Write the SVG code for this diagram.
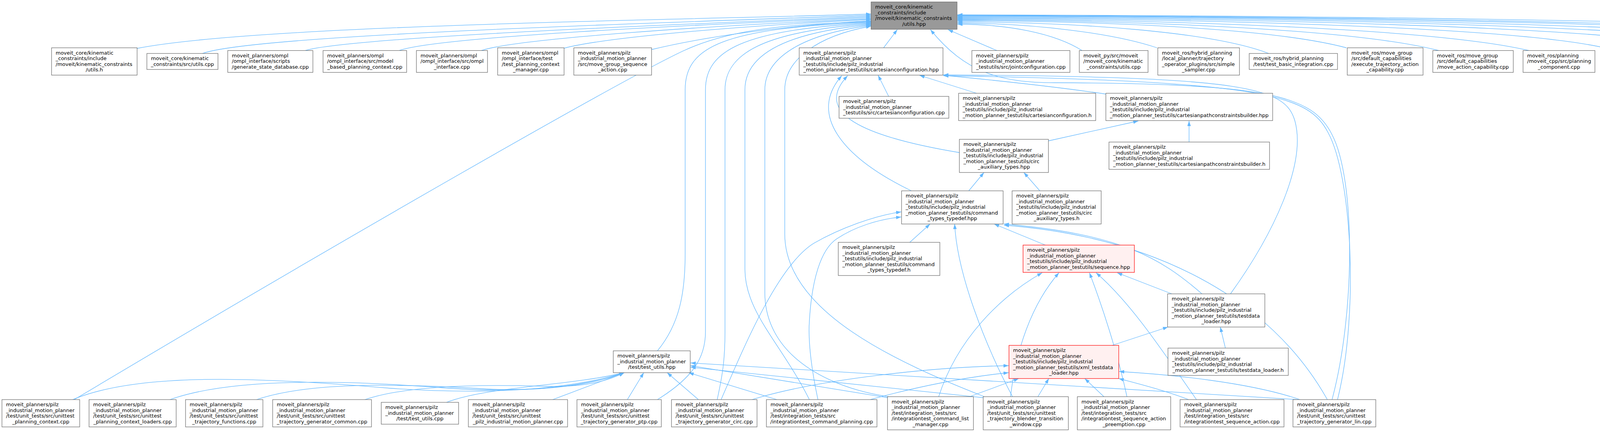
<svg xmlns="http://www.w3.org/2000/svg" width="5678" height="1107" viewBox="0 0 5678 1107">
<style>
.n rect{fill:#ffffff;stroke:#666666;stroke-width:1.2}
.hl rect{fill:#999999}
.red rect{fill:#fff0f0;stroke:#ff0000}
text{font-family:"DejaVu Sans","Liberation Sans",sans-serif;font-size:13px;fill:#000000}
text.c{text-anchor:middle}
.e path{fill:none;stroke:#63b8ff;stroke-width:1.3;marker-end:url(#a)}
</style>
<defs>
<marker id="a" markerUnits="userSpaceOnUse" markerWidth="14" markerHeight="10" refX="13" refY="4.5" orient="auto"><path d="M0,0 L13,4.5 L0,9 z" fill="#63b8ff"/></marker>
</defs>
<rect x="0" y="0" width="5678" height="1107" fill="#ffffff"/>
<g id="edges" class="e">
<path d="M351,124 C650,65 1700,52 2230,36"/>
<path d="M518,137 C650,90 1600,62 2230,39"/>
<path d="M781,129.5 C900,95 1700,64 2230,42"/>
<path d="M1022,129.5 C1120,95 1750,64 2230,45"/>
<path d="M1232,129.5 C1320,100 1800,66 2230,48"/>
<path d="M1442,124 C1550,95 1900,66 2230,50"/>
<path d="M1668,127 C1800,95 2000,66 2230,53"/>
<path d="M190,1024 C900,600 1600,200 1750,130 S2100,62 2230,55"/>
<path d="M1683,899 C1740,830 1754,750 1754,650 L1754,230 C1754,120 1850,72 2230,57"/>
<path d="M1683,1024 C1770,970 1806,920 1806,850 L1806,230 C1806,130 1900,76 2230,59"/>
<path d="M1836,1024 C1850,960 1856,920 1856,850 L1856,230 C1856,140 1950,80 2230,61"/>
<path d="M2072,1024 C2000,880 1907,800 1907,690 L1907,230 C1907,145 2000,84 2230,63"/>
<path d="M2275,1016.5 C2100,990 1958,900 1958,750 L1958,230 C1958,150 2050,88 2230,65"/>
<path d="M2520,1016.5 C2300,930 2009,800 2009,600 L2009,230 C2009,155 2090,92 2230,67"/>
<path d="M2552,129.5 L2427,76"/>
<path d="M2262,122.5 L2297,76"/>
<path d="M2770,129.5 C2700,85 2580,62 2451,62"/>
<path d="M2962,122.5 C2850,85 2650,60 2451,59"/>
<path d="M3248,137 C3100,80 2750,57 2451,56"/>
<path d="M3447,122.5 C3250,70 2800,54 2451,53"/>
<path d="M3683,129.5 C3450,70 2850,52 2451,51"/>
<path d="M3914,129.5 C3650,68 2900,50 2451,49"/>
<path d="M4108,122.5 C3850,65 3000,48 2451,47"/>
<path d="M4356,122.5 C4100,65 3100,46 2451,45"/>
<path d="M4574,122.5 C4300,65 3200,44 2451,43"/>
<path d="M4811,122.5 C4500,65 3300,43 2451,41"/>
<path d="M5049,122.5 C4750,65 3400,42 2451,40"/>
<path d="M5329,137 C5150,70 3600,41 2451,39"/>
<path d="M5516,129.5 C5350,70 3800,40 2451,38"/>
<path d="M3410,1024 C3470,800 3470,460 3410,345 C3360,245 3250,214 2700,212 C2560,212 2470,185 2382,76"/>
<path d="M2275,247 L2248,193"/>
<path d="M2500,239 L2354,193"/>
<path d="M2831,241 C2700,222 2520,203 2415,193"/>
<path d="M2456,391 C2210,350 2080,290 2170,194"/>
<path d="M2333,489 C2150,400 2070,290 2155,194"/>
<path d="M3150,753 C3260,600 3345,420 3315,310 C3290,225 3200,196 2415,192"/>
<path d="M3424,1024 C3480,800 3460,450 3400,340 C3350,245 3250,208 2415,194"/>
<path d="M2684,361 L2914,310"/>
<path d="M3044,364 L3044,310"/>
<path d="M2480,489 L2519,442"/>
<path d="M2662,489 L2621,442"/>
<path d="M2329,621 L2381,574"/>
<path d="M2676,628 L2545,574"/>
<path d="M1846,1024 C1900,900 1990,680 2084,623 C2150,585 2240,552 2307,543"/>
<path d="M2094,1024 C2080,960 2068,880 2072,823 C2078,720 2100,640 2142,612 C2190,580 2250,562 2307,556"/>
<path d="M2592,1016.5 C2520,880 2450,700 2444,574"/>
<path d="M3077,753 C2970,660 2870,600 2570,574"/>
<path d="M3398,1024 C3250,760 2950,606 2570,577"/>
<path d="M3000,753 L2860,699"/>
<path d="M2403,1016.5 C2450,870 2560,760 2668,699"/>
<path d="M2587,1016.5 C2600,900 2640,780 2711,699"/>
<path d="M2885,1016.5 C2860,900 2820,780 2789,699"/>
<path d="M3063,1024 C2990,920 2900,780 2806,699"/>
<path d="M2847,885 L2990,838"/>
<path d="M3137,892 L3124,838"/>
<path d="M1925,1024 C2100,970 2400,940 2582,937"/>
<path d="M2228,1024 C2350,990 2480,965 2582,955"/>
<path d="M2482,1016.5 L2608,970"/>
<path d="M2657,1016.5 L2685,970"/>
<path d="M2826,1016.5 L2777,970"/>
<path d="M3043,1024 C2980,1000 2920,985 2864,970"/>
<path d="M3328,1024 C3200,980 3000,960 2865,952"/>
<path d="M186,1024 C350,955 650,965 1000,995 C1250,1012 1450,1000 1598,955"/>
<path d="M435,1024 C600,965 900,975 1150,995 C1350,1008 1500,990 1598,955"/>
<path d="M657,1024 C800,975 1050,985 1250,997 C1400,1003 1520,985 1598,955"/>
<path d="M934,1024 C1050,985 1250,985 1400,990 C1500,992 1560,975 1598,955"/>
<path d="M1143,1031 C1250,990 1450,990 1598,955"/>
<path d="M1415,1024 L1598,955"/>
<path d="M1606,1024 L1648,955"/>
<path d="M1788,1024 L1708,955"/>
<path d="M1989,1024 L1763,955"/>
<path d="M2272,1019 L1768,937"/>
<path d="M2517,1019 L1768,941"/>
<path d="M3324,1024 L1768,930"/>
</g>
<g id="T" class="n hl"><rect x="2230" y="5" width="220" height="70"/><text x="2240.5" y="22">moveit_core/kinematic</text><text x="2240.5" y="36.5">_constraints/include</text><text x="2240.5" y="51">/moveit/kinematic_constraints</text><text class="c" x="2340" y="65.5">/utils.hpp</text></g>
<g id="n1" class="n"><rect x="132" y="122.5" width="219" height="70"/><text x="142.5" y="139.5">moveit_core/kinematic</text><text x="142.5" y="154">_constraints/include</text><text x="142.5" y="168.5">/moveit/kinematic_constraints</text><text class="c" x="241.5" y="183">/utils.h</text></g>
<g id="n2" class="n"><rect x="376" y="137" width="182" height="41"/><text x="386.5" y="154">moveit_core/kinematic</text><text class="c" x="467" y="168.5">_constraints/src/utils.cpp</text></g>
<g id="n3" class="n"><rect x="583" y="129.5" width="218" height="56"/><text x="593.5" y="146.5">moveit_planners/ompl</text><text x="593.5" y="161">/ompl_interface/scripts</text><text class="c" x="692" y="175.5">/generate_state_database.cpp</text></g>
<g id="n4" class="n"><rect x="827" y="129.5" width="214" height="56"/><text x="837.5" y="146.5">moveit_planners/ompl</text><text x="837.5" y="161">/ompl_interface/src/model</text><text class="c" x="934" y="175.5">_based_planning_context.cpp</text></g>
<g id="n5" class="n"><rect x="1066" y="129.5" width="182" height="56"/><text x="1076.5" y="146.5">moveit_planners/ompl</text><text x="1076.5" y="161">/ompl_interface/src/ompl</text><text class="c" x="1157" y="175.5">_interface.cpp</text></g>
<g id="n6" class="n"><rect x="1274" y="122.5" width="170" height="70"/><text x="1284.5" y="139.5">moveit_planners/ompl</text><text x="1284.5" y="154">/ompl_interface/test</text><text x="1284.5" y="168.5">/test_planning_context</text><text class="c" x="1359" y="183">_manager.cpp</text></g>
<g id="n7" class="n"><rect x="1469" y="122.5" width="199" height="70"/><text x="1479.5" y="139.5">moveit_planners/pilz</text><text x="1479.5" y="154">_industrial_motion_planner</text><text x="1479.5" y="168.5">/src/move_group_sequence</text><text class="c" x="1568.5" y="183">_action.cpp</text></g>
<g id="n8" class="n"><rect x="2046" y="122.5" width="368" height="70"/><text x="2056.5" y="139.5">moveit_planners/pilz</text><text x="2056.5" y="154">_industrial_motion_planner</text><text x="2056.5" y="168.5">_testutils/include/pilz_industrial</text><text class="c" x="2230" y="183">_motion_planner_testutils/cartesianconfiguration.hpp</text></g>
<g id="n9" class="n"><rect x="2488" y="129.5" width="251" height="56"/><text x="2498.5" y="146.5">moveit_planners/pilz</text><text x="2498.5" y="161">_industrial_motion_planner</text><text class="c" x="2613.5" y="175.5">_testutils/src/jointconfiguration.cpp</text></g>
<g id="n10" class="n"><rect x="2763" y="129.5" width="176" height="56"/><text x="2773.5" y="146.5">moveit_py/src/moveit</text><text x="2773.5" y="161">/moveit_core/kinematic</text><text class="c" x="2851" y="175.5">_constraints/utils.cpp</text></g>
<g id="n11" class="n"><rect x="2964" y="122.5" width="209" height="70"/><text x="2974.5" y="139.5">moveit_ros/hybrid_planning</text><text x="2974.5" y="154">/local_planner/trajectory</text><text x="2974.5" y="168.5">_operator_plugins/src/simple</text><text class="c" x="3068.5" y="183">_sampler.cpp</text></g>
<g id="n12" class="n"><rect x="3198" y="137" width="226" height="41"/><text x="3208.5" y="154">moveit_ros/hybrid_planning</text><text class="c" x="3311" y="168.5">/test/test_basic_integration.cpp</text></g>
<g id="n13" class="n"><rect x="3449" y="122.5" width="194" height="70"/><text x="3459.5" y="139.5">moveit_ros/move_group</text><text x="3459.5" y="154">/src/default_capabilities</text><text x="3459.5" y="168.5">/execute_trajectory_action</text><text class="c" x="3546" y="183">_capability.cpp</text></g>
<g id="n14" class="n"><rect x="3668" y="129.5" width="206" height="56"/><text x="3678.5" y="146.5">moveit_ros/move_group</text><text x="3678.5" y="161">/src/default_capabilities</text><text class="c" x="3771" y="175.5">/move_action_capability.cpp</text></g>
<g id="n15" class="n"><rect x="3899" y="129.5" width="184" height="56"/><text x="3909.5" y="146.5">moveit_ros/planning</text><text x="3909.5" y="161">/moveit_cpp/src/planning</text><text class="c" x="3991" y="175.5">_component.cpp</text></g>
<g id="n16" class="n"><rect x="4108" y="122.5" width="222" height="70"/><text x="4118.5" y="139.5">moveit_ros/planning</text><text x="4118.5" y="154">/planning_request_adapter</text><text x="4118.5" y="168.5">_plugins/src/resolve_constraint</text><text class="c" x="4219" y="183">_frames.cpp</text></g>
<g id="n17" class="n"><rect x="4356" y="122.5" width="194" height="70"/><text x="4366.5" y="139.5">moveit_ros/planning</text><text x="4366.5" y="154">_interface/move_group</text><text x="4366.5" y="168.5">_interface/src/move_group</text><text class="c" x="4453" y="183">_interface.cpp</text></g>
<g id="n18" class="n"><rect x="4574" y="122.5" width="213" height="70"/><text x="4584.5" y="139.5">moveit_ros/visualization</text><text x="4584.5" y="154">/motion_planning_rviz_plugin</text><text x="4584.5" y="168.5">/src/motion_planning_frame</text><text class="c" x="4680.5" y="183">_manipulation.cpp</text></g>
<g id="n19" class="n"><rect x="4811" y="122.5" width="213" height="70"/><text x="4821.5" y="139.5">moveit_ros/visualization</text><text x="4821.5" y="154">/motion_planning_rviz_plugin</text><text x="4821.5" y="168.5">/src/motion_planning_frame</text><text class="c" x="4917.5" y="183">_planning.cpp</text></g>
<g id="n20" class="n"><rect x="5049" y="122.5" width="212" height="70"/><text x="5059.5" y="139.5">moveit_ros/visualization</text><text x="5059.5" y="154">/motion_planning_rviz_plugin</text><text x="5059.5" y="168.5">/src/motion_planning_frame</text><text class="c" x="5155" y="183">_scenes.cpp</text></g>
<g id="n21" class="n"><rect x="5287" y="137" width="189" height="41"/><text x="5297.5" y="154">moveit_ros/warehouse</text><text class="c" x="5381.5" y="168.5">/src/import_from_text.cpp</text></g>
<g id="n22" class="n"><rect x="5502" y="129.5" width="170" height="56"/><text x="5512.5" y="146.5">moveit_ros/warehouse</text><text x="5512.5" y="161">/src/initialize_demo</text><text class="c" x="5587" y="175.5">_db.cpp</text></g>
<g id="n23" class="n"><rect x="2148" y="247" width="281" height="56"/><text x="2158.5" y="264">moveit_planners/pilz</text><text x="2158.5" y="278.5">_industrial_motion_planner</text><text class="c" x="2288.5" y="293">_testutils/src/cartesianconfiguration.cpp</text></g>
<g id="n24" class="n"><rect x="2454" y="239" width="351" height="70"/><text x="2464.5" y="256">moveit_planners/pilz</text><text x="2464.5" y="270.5">_industrial_motion_planner</text><text x="2464.5" y="285">_testutils/include/pilz_industrial</text><text class="c" x="2629.5" y="299.5">_motion_planner_testutils/cartesianconfiguration.h</text></g>
<g id="n25" class="n"><rect x="2831" y="239" width="427" height="70"/><text x="2841.5" y="256">moveit_planners/pilz</text><text x="2841.5" y="270.5">_industrial_motion_planner</text><text x="2841.5" y="285">_testutils/include/pilz_industrial</text><text class="c" x="3044.5" y="299.5">_motion_planner_testutils/cartesianpathconstraintsbuilder.hpp</text></g>
<g id="n26" class="n"><rect x="2456" y="357" width="228" height="85"/><text x="2466.5" y="374">moveit_planners/pilz</text><text x="2466.5" y="388.5">_industrial_motion_planner</text><text x="2466.5" y="403">_testutils/include/pilz_industrial</text><text x="2466.5" y="417.5">_motion_planner_testutils/circ</text><text class="c" x="2570" y="432">_auxiliary_types.hpp</text></g>
<g id="n27" class="n"><rect x="2839" y="364" width="411" height="70"/><text x="2849.5" y="381">moveit_planners/pilz</text><text x="2849.5" y="395.5">_industrial_motion_planner</text><text x="2849.5" y="410">_testutils/include/pilz_industrial</text><text class="c" x="3044.5" y="424.5">_motion_planner_testutils/cartesianpathconstraintsbuilder.h</text></g>
<g id="n28" class="n"><rect x="2308" y="489" width="260" height="85"/><text x="2318.5" y="506">moveit_planners/pilz</text><text x="2318.5" y="520.5">_industrial_motion_planner</text><text x="2318.5" y="535">_testutils/include/pilz_industrial</text><text x="2318.5" y="549.5">_motion_planner_testutils/command</text><text class="c" x="2438" y="564">_types_typedef.hpp</text></g>
<g id="n29" class="n"><rect x="2591" y="489" width="228" height="85"/><text x="2601.5" y="506">moveit_planners/pilz</text><text x="2601.5" y="520.5">_industrial_motion_planner</text><text x="2601.5" y="535">_testutils/include/pilz_industrial</text><text x="2601.5" y="549.5">_motion_planner_testutils/circ</text><text class="c" x="2705" y="564">_auxiliary_types.h</text></g>
<g id="n30" class="n"><rect x="2146" y="621" width="260" height="85"/><text x="2156.5" y="638">moveit_planners/pilz</text><text x="2156.5" y="652.5">_industrial_motion_planner</text><text x="2156.5" y="667">_testutils/include/pilz_industrial</text><text x="2156.5" y="681.5">_motion_planner_testutils/command</text><text class="c" x="2276" y="696">_types_typedef.h</text></g>
<g id="n31" class="n red"><rect x="2619" y="628" width="285" height="70"/><text x="2629.5" y="645">moveit_planners/pilz</text><text x="2629.5" y="659.5">_industrial_motion_planner</text><text x="2629.5" y="674">_testutils/include/pilz_industrial</text><text class="c" x="2761.5" y="688.5">_motion_planner_testutils/sequence.hpp</text></g>
<g id="n32" class="n"><rect x="2989" y="753" width="249" height="85"/><text x="2999.5" y="770">moveit_planners/pilz</text><text x="2999.5" y="784.5">_industrial_motion_planner</text><text x="2999.5" y="799">_testutils/include/pilz_industrial</text><text x="2999.5" y="813.5">_motion_planner_testutils/testdata</text><text class="c" x="3113.5" y="828">_loader.hpp</text></g>
<g id="n33" class="n"><rect x="1570" y="899" width="197" height="56"/><text x="1580.5" y="916">moveit_planners/pilz</text><text x="1580.5" y="930.5">_industrial_motion_planner</text><text class="c" x="1668.5" y="945">/test/test_utils.hpp</text></g>
<g id="n34" class="n red"><rect x="2583" y="885" width="281" height="85"/><text x="2593.5" y="902">moveit_planners/pilz</text><text x="2593.5" y="916.5">_industrial_motion_planner</text><text x="2593.5" y="931">_testutils/include/pilz_industrial</text><text x="2593.5" y="945.5">_motion_planner_testutils/xml_testdata</text><text class="c" x="2723.5" y="960">_loader.hpp</text></g>
<g id="n35" class="n"><rect x="2990" y="892" width="308" height="70"/><text x="3000.5" y="909">moveit_planners/pilz</text><text x="3000.5" y="923.5">_industrial_motion_planner</text><text x="3000.5" y="938">_testutils/include/pilz_industrial</text><text class="c" x="3144" y="952.5">_motion_planner_testutils/testdata_loader.h</text></g>
<g id="b1" class="n"><rect x="5" y="1024" width="199" height="70"/><text x="15.5" y="1041">moveit_planners/pilz</text><text x="15.5" y="1055.5">_industrial_motion_planner</text><text x="15.5" y="1070">/test/unit_tests/src/unittest</text><text class="c" x="104.5" y="1084.5">_planning_context.cpp</text></g>
<g id="b2" class="n"><rect x="228" y="1024" width="223" height="70"/><text x="238.5" y="1041">moveit_planners/pilz</text><text x="238.5" y="1055.5">_industrial_motion_planner</text><text x="238.5" y="1070">/test/unit_tests/src/unittest</text><text class="c" x="339.5" y="1084.5">_planning_context_loaders.cpp</text></g>
<g id="b3" class="n"><rect x="475" y="1024" width="198" height="70"/><text x="485.5" y="1041">moveit_planners/pilz</text><text x="485.5" y="1055.5">_industrial_motion_planner</text><text x="485.5" y="1070">/test/unit_tests/src/unittest</text><text class="c" x="574" y="1084.5">_trajectory_functions.cpp</text></g>
<g id="b4" class="n"><rect x="698" y="1024" width="253" height="70"/><text x="708.5" y="1041">moveit_planners/pilz</text><text x="708.5" y="1055.5">_industrial_motion_planner</text><text x="708.5" y="1070">/test/unit_tests/src/unittest</text><text class="c" x="824.5" y="1084.5">_trajectory_generator_common.cpp</text></g>
<g id="b5" class="n"><rect x="976" y="1031" width="198" height="56"/><text x="986.5" y="1048">moveit_planners/pilz</text><text x="986.5" y="1062.5">_industrial_motion_planner</text><text class="c" x="1075" y="1077">/test/test_utils.cpp</text></g>
<g id="b6" class="n"><rect x="1199" y="1024" width="254" height="70"/><text x="1209.5" y="1041">moveit_planners/pilz</text><text x="1209.5" y="1055.5">_industrial_motion_planner</text><text x="1209.5" y="1070">/test/unit_tests/src/unittest</text><text class="c" x="1326" y="1084.5">_pilz_industrial_motion_planner.cpp</text></g>
<g id="b7" class="n"><rect x="1477" y="1024" width="216" height="70"/><text x="1487.5" y="1041">moveit_planners/pilz</text><text x="1487.5" y="1055.5">_industrial_motion_planner</text><text x="1487.5" y="1070">/test/unit_tests/src/unittest</text><text class="c" x="1585" y="1084.5">_trajectory_generator_ptp.cpp</text></g>
<g id="b8" class="n"><rect x="1719" y="1024" width="219" height="70"/><text x="1729.5" y="1041">moveit_planners/pilz</text><text x="1729.5" y="1055.5">_industrial_motion_planner</text><text x="1729.5" y="1070">/test/unit_tests/src/unittest</text><text class="c" x="1828.5" y="1084.5">_trajectory_generator_circ.cpp</text></g>
<g id="b9" class="n"><rect x="1962" y="1024" width="283" height="70"/><text x="1972.5" y="1041">moveit_planners/pilz</text><text x="1972.5" y="1055.5">_industrial_motion_planner</text><text x="1972.5" y="1070">/test/integration_tests/src</text><text class="c" x="2103.5" y="1084.5">/integrationtest_command_planning.cpp</text></g>
<g id="b10" class="n"><rect x="2272" y="1016.5" width="220" height="85"/><text x="2282.5" y="1033.5">moveit_planners/pilz</text><text x="2282.5" y="1048">_industrial_motion_planner</text><text x="2282.5" y="1062.5">/test/integration_tests/src</text><text x="2282.5" y="1077">/integrationtest_command_list</text><text class="c" x="2382" y="1091.5">_manager.cpp</text></g>
<g id="b11" class="n"><rect x="2517" y="1016.5" width="218" height="85"/><text x="2527.5" y="1033.5">moveit_planners/pilz</text><text x="2527.5" y="1048">_industrial_motion_planner</text><text x="2527.5" y="1062.5">/test/unit_tests/src/unittest</text><text x="2527.5" y="1077">_trajectory_blender_transition</text><text class="c" x="2626" y="1091.5">_window.cpp</text></g>
<g id="b12" class="n"><rect x="2758" y="1016.5" width="239" height="85"/><text x="2768.5" y="1033.5">moveit_planners/pilz</text><text x="2768.5" y="1048">_industrial_motion_planner</text><text x="2768.5" y="1062.5">/test/integration_tests/src</text><text x="2768.5" y="1077">/integrationtest_sequence_action</text><text class="c" x="2877.5" y="1091.5">_preemption.cpp</text></g>
<g id="b13" class="n"><rect x="3021" y="1024" width="266" height="70"/><text x="3031.5" y="1041">moveit_planners/pilz</text><text x="3031.5" y="1055.5">_industrial_motion_planner</text><text x="3031.5" y="1070">/test/integration_tests/src</text><text class="c" x="3154" y="1084.5">/integrationtest_sequence_action.cpp</text></g>
<g id="b14" class="n"><rect x="3310" y="1024" width="212" height="70"/><text x="3320.5" y="1041">moveit_planners/pilz</text><text x="3320.5" y="1055.5">_industrial_motion_planner</text><text x="3320.5" y="1070">/test/unit_tests/src/unittest</text><text class="c" x="3416" y="1084.5">_trajectory_generator_lin.cpp</text></g>
</svg>
